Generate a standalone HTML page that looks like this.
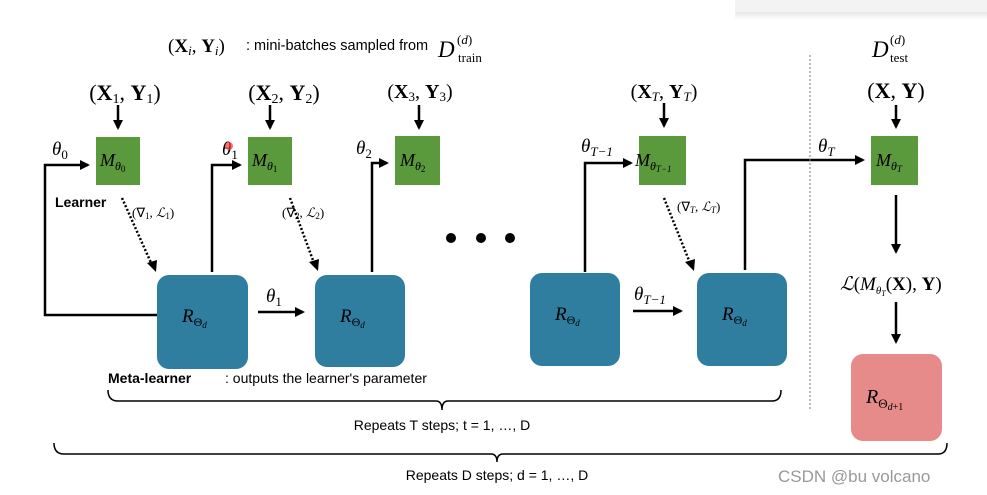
<!DOCTYPE html>
<html><head><meta charset="utf-8"><style>
body{margin:0;background:#fff}
svg{display:block}
.m{font-family:"Liberation Serif",serif;font-style:italic}
.s{font-family:"Liberation Sans",sans-serif}
</style></head><body>
<svg width="987" height="495" viewBox="0 0 987 495" xmlns="http://www.w3.org/2000/svg">
<defs>
<marker id="a" markerWidth="10" markerHeight="10" refX="8" refY="5" orient="auto" markerUnits="userSpaceOnUse"><path d="M0,0 L10,5 L0,10 z" fill="#000"/></marker>
<linearGradient id="sh" x1="0" y1="0" x2="0" y2="1"><stop offset="0" stop-color="#e8e8e8"/><stop offset="1" stop-color="#fff"/></linearGradient>
</defs>
<rect x="735" y="0" width="252" height="12" fill="#f3f3f3"/>
<rect x="735" y="12" width="252" height="8" fill="url(#sh)"/>
<!-- top caption -->
<text x="168" y="52" font-size="19" font-family="Liberation Serif,serif">(<tspan font-weight="bold">X</tspan><tspan font-style="italic" font-size="13" dy="3">i</tspan><tspan dy="-3">, </tspan><tspan font-weight="bold">Y</tspan><tspan font-style="italic" font-size="13" dy="3">i</tspan><tspan dy="-3">)</tspan></text>
<text x="246" y="50" font-size="14.5" class="s">: mini-batches sampled from</text>
<text x="438" y="57" font-size="23" class="m">D</text>
<text x="457" y="44" font-size="13" font-family="Liberation Serif,serif">(<tspan font-style="italic">d</tspan>)</text>
<text x="458" y="62" font-size="13" font-family="Liberation Serif,serif">train</text>
<text x="872" y="57" font-size="23" class="m">D</text>
<text x="890" y="44" font-size="13" font-family="Liberation Serif,serif">(<tspan font-style="italic">d</tspan>)</text>
<text x="890" y="62" font-size="13" font-family="Liberation Serif,serif">test</text>
<!-- inputs -->
<g font-size="22" font-family="Liberation Serif,serif" text-anchor="middle">
<text x="125" y="100">(<tspan font-weight="bold">X</tspan><tspan font-size="14" dy="3">1</tspan><tspan dy="-3">, </tspan><tspan font-weight="bold">Y</tspan><tspan font-size="14" dy="3">1</tspan><tspan dy="-3">)</tspan></text>
<text x="284" y="100">(<tspan font-weight="bold">X</tspan><tspan font-size="14" dy="3">2</tspan><tspan dy="-3">, </tspan><tspan font-weight="bold">Y</tspan><tspan font-size="14" dy="3">2</tspan><tspan dy="-3">)</tspan></text>
<text x="420" y="98" font-size="20">(<tspan font-weight="bold">X</tspan><tspan font-size="13" dy="3">3</tspan><tspan dy="-3">, </tspan><tspan font-weight="bold">Y</tspan><tspan font-size="13" dy="3">3</tspan><tspan dy="-3">)</tspan></text>
<text x="664" y="98" font-size="20">(<tspan font-weight="bold">X</tspan><tspan font-size="13" font-style="italic" dy="3">T</tspan><tspan dy="-3">, </tspan><tspan font-weight="bold">Y</tspan><tspan font-size="13" font-style="italic" dy="3">T</tspan><tspan dy="-3">)</tspan></text>
<text x="896" y="98">(<tspan font-weight="bold">X</tspan>, <tspan font-weight="bold">Y</tspan>)</text>
</g>
<g stroke="#000" stroke-width="2.5" marker-end="url(#a)">
<line x1="118" y1="105" x2="118" y2="128"/>
<line x1="270" y1="105" x2="270" y2="128"/>
<line x1="419" y1="105" x2="419" y2="128"/>
<line x1="664" y1="103" x2="664" y2="126"/>
<line x1="896" y1="105" x2="896" y2="127"/>
</g>
<!-- green boxes -->
<g fill="#5a9a3c">
<rect x="96" y="137" width="44" height="48"/>
<rect x="248" y="137" width="44" height="48"/>
<rect x="395" y="136" width="45" height="49"/>
<rect x="639" y="136" width="47" height="49"/>
<rect x="871" y="136" width="47" height="49"/>
</g>
<g class="m" font-size="18">
<text x="100" y="166">M<tspan font-size="12" dy="4">θ</tspan><tspan font-size="9" font-style="normal" dy="2">0</tspan></text>
<text x="252" y="166">M<tspan font-size="12" dy="4">θ</tspan><tspan font-size="9" font-style="normal" dy="2">1</tspan></text>
<text x="400" y="166">M<tspan font-size="12" dy="4">θ</tspan><tspan font-size="9" font-style="normal" dy="2">2</tspan></text>
<text x="635" y="166">M<tspan font-size="12" dy="4">θ</tspan><tspan font-size="9" dy="2">T−1</tspan></text>
<text x="876" y="166">M<tspan font-size="12" dy="4">θ</tspan><tspan font-size="9" dy="2">T</tspan></text>
</g>
<!-- theta labels -->
<g class="m" font-size="19">
<text x="52" y="155">θ<tspan font-size="13" font-style="normal" dy="4">0</tspan></text>
<text x="222" y="155">θ<tspan font-size="13" font-style="normal" dy="4">1</tspan></text>
<text x="356" y="154">θ<tspan font-size="13" font-style="normal" dy="4">2</tspan></text>
<text x="581" y="152">θ<tspan font-size="13" dy="4">T−1</tspan></text>
<text x="818" y="152">θ<tspan font-size="13" dy="4">T</tspan></text>
<text x="266" y="302">θ<tspan font-size="13" font-style="normal" dy="4">1</tspan></text>
<text x="634" y="300">θ<tspan font-size="13" dy="4">T−1</tspan></text>
</g>
<circle cx="229" cy="146" r="4" fill="#f33" opacity="0.7"/>
<!-- loops -->
<g fill="none" stroke="#000" stroke-width="2.5">
<polyline points="157,315 45,315 45,165 88,165" marker-end="url(#a)"/>
<polyline points="212,272 212,165 240,165" marker-end="url(#a)"/>
<polyline points="372,272 372,163 387,163" marker-end="url(#a)"/>
<polyline points="585,272 585,163 631,163" marker-end="url(#a)"/>
<polyline points="745,270 745,160 863,160" marker-end="url(#a)"/>
<line x1="258" y1="312" x2="303" y2="312" marker-end="url(#a)"/>
<line x1="633" y1="311" x2="681" y2="311" marker-end="url(#a)"/>
<line x1="896" y1="195" x2="896" y2="252" marker-end="url(#a)"/>
<line x1="896" y1="302" x2="896" y2="342" marker-end="url(#a)"/>
</g>
<!-- dotted diagonals -->
<g fill="none" stroke="#000" stroke-width="2.5" stroke-dasharray="2,2">
<line x1="122" y1="198" x2="152" y2="265"/>
<line x1="290" y1="198" x2="314" y2="263"/>
<line x1="664" y1="198" x2="690" y2="263"/>
</g>
<g fill="#000">
<path d="M147,263 L156,272 L157,260 z"/>
<path d="M309,262 L318,271 L319,259 z"/>
<path d="M685,262 L694,271 L695,259 z"/>
</g>
<g font-size="13" font-family="Liberation Serif,serif">
<text x="132" y="217">(∇<tspan font-size="9" dy="2">1</tspan><tspan dy="-2">, </tspan><tspan font-style="italic">ℒ</tspan><tspan font-size="9" dy="2">1</tspan><tspan dy="-2">)</tspan></text>
<text x="282" y="217">(∇<tspan font-size="9" dy="2">2</tspan><tspan dy="-2">, </tspan><tspan font-style="italic">ℒ</tspan><tspan font-size="9" dy="2">2</tspan><tspan dy="-2">)</tspan></text>
<text x="677" y="211">(∇<tspan font-size="9" font-style="italic" dy="2">T</tspan><tspan dy="-2">, </tspan><tspan font-style="italic">ℒ</tspan><tspan font-size="9" font-style="italic" dy="2">T</tspan><tspan dy="-2">)</tspan></text>
</g>
<text x="55" y="207" class="s" font-size="14" font-weight="bold">Learner</text>
<!-- dots -->
<circle cx="451" cy="238" r="5"/><circle cx="481" cy="238" r="5"/><circle cx="510" cy="238" r="5"/>
<!-- blue boxes -->
<g fill="#2f7ea0">
<rect x="157" y="275" width="91" height="94" rx="12"/>
<rect x="315" y="275" width="90" height="92" rx="12"/>
<rect x="530" y="273" width="90" height="93" rx="12"/>
<rect x="697" y="273" width="90" height="93" rx="12"/>
</g>
<g class="m" font-size="19">
<text x="182" y="322">R<tspan font-size="12" font-style="normal" dy="4">Θ</tspan><tspan font-size="9" dy="2">d</tspan></text>
<text x="340" y="322">R<tspan font-size="12" font-style="normal" dy="4">Θ</tspan><tspan font-size="9" dy="2">d</tspan></text>
<text x="555" y="320">R<tspan font-size="12" font-style="normal" dy="4">Θ</tspan><tspan font-size="9" dy="2">d</tspan></text>
<text x="722" y="320">R<tspan font-size="12" font-style="normal" dy="4">Θ</tspan><tspan font-size="9" dy="2">d</tspan></text>
</g>
<text x="840" y="290" font-size="19" font-family="Liberation Serif,serif"><tspan font-style="italic">ℒ</tspan>(<tspan font-style="italic">M</tspan><tspan font-size="11" font-style="italic" dy="4">θ</tspan><tspan font-size="8" font-style="italic" dy="2">T</tspan><tspan dy="-6">(</tspan><tspan font-weight="bold">X</tspan>), <tspan font-weight="bold">Y</tspan>)</text>
<rect x="851" y="354" width="91" height="87" rx="12" fill="#e68a8a"/>
<text x="866" y="403" class="m" font-size="20">R<tspan font-size="13" font-style="normal" dy="5">Θ</tspan><tspan font-size="10" dy="2">d</tspan><tspan font-size="10" font-style="normal">+1</tspan></text>
<!-- divider -->
<line x1="810" y1="55" x2="810" y2="410" stroke="#777" stroke-width="1" stroke-dasharray="2,2"/>
<!-- meta-learner -->
<text x="108" y="383" class="s" font-size="14" font-weight="bold">Meta-learner</text>
<text x="225" y="383" class="s" font-size="14">: outputs the learner's parameter</text>
<!-- braces -->
<g fill="none" stroke="#000" stroke-width="1.5">
<path d="M108,390 Q108,401 118,401 L436,401 Q442,401 442,410 Q442,401 448,401 L772,401 Q781,401 781,390"/>
<path d="M54,443 Q54,454 64,454 L491,454 Q497,454 497,462 Q497,454 503,454 L938,454 Q947,454 947,443"/>
</g>
<text x="442" y="430" text-anchor="middle" class="s" font-size="14">Repeats T steps; t = 1, …, D</text>
<text x="497" y="480" text-anchor="middle" class="s" font-size="14">Repeats D steps; d = 1, …, D</text>
<text x="778" y="482" class="s" font-size="17" fill="#999">CSDN @bu volcano</text>
</svg>
</body></html>
